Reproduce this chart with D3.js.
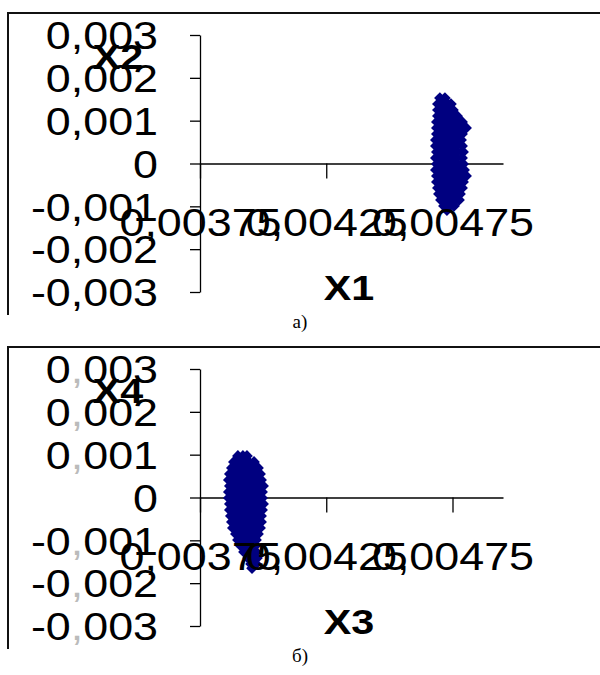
<!DOCTYPE html>
<html>
<head>
<meta charset="utf-8">
<script src="https://cdn.jsdelivr.net/npm/d3@7"></script>
<style>
  body { margin: 0; background: #fff; }
  svg { display: block; }
</style>
</head>
<body>
<svg id="chart" width="600" height="675"></svg>
<script>
//Axis ticks and their labels (comma as decimal separator)
var xTicks = [0.00375, 0.00425, 0.00475];
var xTickLabels = ["0,00375", "0,00425", "0,00475"];
var yTicks = [0.003, 0.002, 0.001, 0, -0.001, -0.002, -0.003];
var yTickLabels = ["0,003", "0,002", "0,001", "0", "-0,001", "-0,002", "-0,003"];
var xDomain = [0.00375, 0.00495];
var yDomain = [-0.003, 0.003];

//Panel a) points, one row per X2 value: [X2, [X1 values]]
var rowsA = [
  [0.00153, [0.00470, 0.00472]],
  [0.00139, [0.004692, 0.004712, 0.004732, 0.004744]],
  [0.00125, [0.004692, 0.004712, 0.004732, 0.004752]],
  [0.00111, [0.004692, 0.004712, 0.004732, 0.004752, 0.004768]],
  [0.00097, [0.004688, 0.004708, 0.004728, 0.004748, 0.004768, 0.004788]],
  [0.00083, [0.004688, 0.004708, 0.004728, 0.004748, 0.004768, 0.004788, 0.004804]],
  [0.00069, [0.004688, 0.004708, 0.004728, 0.004748, 0.004768, 0.004788]],
  [0.00055, [0.004684, 0.004704, 0.004724, 0.004744, 0.004764, 0.004784]],
  [0.00041, [0.004684, 0.004704, 0.004724, 0.004744, 0.004764, 0.004788]],
  [0.00027, [0.004688, 0.004708, 0.004728, 0.004748, 0.004768, 0.004792]],
  [0.00013, [0.004684, 0.004704, 0.004724, 0.004744, 0.004764, 0.004788]],
  [-0.00001, [0.004688, 0.004708, 0.004728, 0.004748, 0.004768, 0.004792]],
  [-0.00015, [0.004684, 0.004704, 0.004724, 0.004744, 0.004764, 0.004784, 0.004796]],
  [-0.00029, [0.004688, 0.004708, 0.004728, 0.004748, 0.004768, 0.004788, 0.004804]],
  [-0.00043, [0.004688, 0.004708, 0.004728, 0.004748, 0.004768, 0.004792]],
  [-0.00057, [0.004692, 0.004712, 0.004732, 0.004752, 0.004772, 0.004788]],
  [-0.00071, [0.004696, 0.004716, 0.004736, 0.004756, 0.00478]],
  [-0.00085, [0.004704, 0.004724, 0.004744, 0.00476, 0.004776]],
  [-0.00099, [0.004716, 0.004736, 0.004756]],
  [-0.00109, [0.004728]]
];

//Panel b) points, one row per X4 value: [X4, [X3 values]]
var rowsB = [
  [0.00097, [0.0039, 0.00392, 0.003936]],
  [0.00083, [0.003884, 0.003904, 0.003924, 0.003944, 0.003964]],
  [0.00069, [0.003876, 0.003896, 0.003916, 0.003936, 0.003956, 0.00398]],
  [0.00055, [0.003868, 0.003888, 0.003908, 0.003928, 0.003948, 0.003968, 0.003988]],
  [0.00041, [0.003864, 0.003884, 0.003904, 0.003924, 0.003944, 0.003964, 0.003984, 0.003992]],
  [0.00027, [0.003868, 0.003888, 0.003908, 0.003928, 0.003948, 0.003968, 0.003988, 0.004]],
  [0.00013, [0.003864, 0.003884, 0.003904, 0.003924, 0.003944, 0.003964, 0.003984, 0.003996]],
  [-0.00001, [0.003864, 0.003884, 0.003904, 0.003924, 0.003944, 0.003964, 0.003984, 0.003996]],
  [-0.00015, [0.003868, 0.003888, 0.003908, 0.003928, 0.003948, 0.003968, 0.003988, 0.004]],
  [-0.00029, [0.003868, 0.003888, 0.003908, 0.003928, 0.003948, 0.003968, 0.003988, 0.003996]],
  [-0.00043, [0.003872, 0.003892, 0.003912, 0.003932, 0.003952, 0.003972, 0.003992]],
  [-0.00057, [0.003876, 0.003896, 0.003916, 0.003936, 0.003956, 0.003976, 0.003992]],
  [-0.00071, [0.00388, 0.0039, 0.00392, 0.00394, 0.00396, 0.00398, 0.003988]],
  [-0.00085, [0.003892, 0.003912, 0.003932, 0.003952, 0.003972, 0.00398]],
  [-0.00099, [0.0039, 0.00392, 0.00394, 0.00396, 0.003972]],
  [-0.00113, [0.003912, 0.003932, 0.003952, 0.003968]],
  [-0.00127, [0.003924, 0.003944, 0.003964, 0.003972]],
  [-0.00141, [0.00394, 0.00396, 0.003976]],
  [-0.00155, [0.003952, 0.003972]],
  [-0.00165, [0.003956]]
];

var panels = [
  {rows: rowsA, xTitle: "X1", yTitle: "X2", caption: "а)", grayComma: false},
  {rows: rowsB, xTitle: "X3", yTitle: "X4", caption: "б)", grayComma: true}
];

var svg = d3.select("#chart");
var navy = "#000080";
var stretch = "scale(1.18,1)";

//Excel-like square diamond marker
var diamond = {
  draw: function(ctx, size){
    var r = Math.sqrt(size / 2);
    ctx.moveTo(0, -r);
    ctx.lineTo(r, 0);
    ctx.lineTo(0, r);
    ctx.lineTo(-r, 0);
    ctx.closePath();
  }
};
var marker = d3.symbol().type(diamond).size(68);

//Flatten a panel's rows into [x, y] points
var toPoints = function(rows){
  var pts = [];
  rows.forEach(function(row){
    row[1].forEach(function(xv){ pts.push([xv, row[0]]); });
  });
  return pts;
};

panels.forEach(function(p, i){
  var oy = i * 334;
  var g = svg.append("g");

  //Frame around the picture (top and left edges only are visible)
  g.append("path")
    .attr("d", "M8," + (315 + oy) + "V" + (13 + oy) + "H600")
    .attr("fill", "none")
    .attr("stroke", "#111")
    .attr("stroke-width", 2);

  var x = d3.scaleLinear().domain(xDomain).range([200, 503]);
  var y = d3.scaleLinear().domain(yDomain).range([292 + oy, 35 + oy]);

  //Axis lines and ticks (labels are drawn later, above the points)
  var yAxis = d3.axisLeft(y).tickValues(yTicks).tickSize(10).tickSizeOuter(0);
  var xAxis = d3.axisBottom(x).tickValues(xTicks).tickSize(15).tickSizeOuter(0);

  g.append("g")
    .attr("transform", "translate(200,0)")
    .call(yAxis.tickFormat(""))
    .call(function(a){ a.selectAll("path, line").attr("stroke", "#000").attr("stroke-width", 1.3); });

  g.append("g")
    .attr("transform", "translate(0," + y(0) + ")")
    .call(xAxis.tickFormat(""))
    .call(function(a){ a.selectAll("path, line").attr("stroke", "#000").attr("stroke-width", 1.3); });

  //The point cloud
  g.append("g").selectAll("path")
    .data(toPoints(p.rows))
    .join("path")
    .attr("d", marker)
    .attr("transform", function(d){ return "translate(" + x(d[0]) + "," + y(d[1]) + ")"; })
    .attr("fill", navy);

  //Tick labels on top
  var yLab = g.append("g")
    .attr("transform", "translate(200,0)")
    .call(d3.axisLeft(y).tickValues(yTicks).tickFormat(function(d, k){ return yTickLabels[k]; }))
    .call(function(a){ a.select(".domain").remove(); a.selectAll("line").remove(); });
  yLab.selectAll("text")
    .attr("x", -35.6)
    .attr("dy", "0.36em")
    .attr("transform", stretch)
    .attr("font-family", "'Liberation Sans', Arial, sans-serif")
    .attr("font-size", 38)
    .attr("fill", "#000");
  if (p.grayComma) {
    yLab.selectAll("text").each(function(){
      var t = d3.select(this), s = t.text(), parts = s.split(",");
      if (parts.length < 2) return;
      t.text(null);
      t.append("tspan").text(parts[0]);
      t.append("tspan").attr("fill", "#bbb").text(",");
      t.append("tspan").text(parts[1]);
    });
  }

  var xLab = g.append("g")
    .attr("transform", "translate(0," + y(0) + ")")
    .call(d3.axisBottom(x).tickValues(xTicks).tickFormat(function(d, k){ return xTickLabels[k]; }))
    .call(function(a){ a.select(".domain").remove(); a.selectAll("line").remove(); });
  xLab.selectAll("text")
    .attr("y", 73)
    .attr("dy", 0)
    .attr("transform", stretch)
    .attr("font-family", "'Liberation Sans', Arial, sans-serif")
    .attr("font-size", 38)
    .attr("fill", "#000");

  //Axis titles
  g.append("text")
    .attr("transform", "translate(118," + (69 + oy) + ") " + stretch)
    .attr("text-anchor", "middle")
    .attr("font-family", "'Liberation Sans', Arial, sans-serif")
    .attr("font-weight", "bold")
    .attr("font-size", 35)
    .text(p.yTitle);

  g.append("text")
    .attr("transform", "translate(349," + (300 + oy) + ") " + stretch)
    .attr("text-anchor", "middle")
    .attr("font-family", "'Liberation Sans', Arial, sans-serif")
    .attr("font-weight", "bold")
    .attr("font-size", 35)
    .text(p.xTitle);

  //Caption under the panel
  g.append("text")
    .attr("x", 300)
    .attr("y", 328 + oy)
    .attr("text-anchor", "middle")
    .attr("font-family", "'Liberation Serif', 'Times New Roman', serif")
    .attr("font-size", 19)
    .text(p.caption);
});
</script>
</body>
</html>
